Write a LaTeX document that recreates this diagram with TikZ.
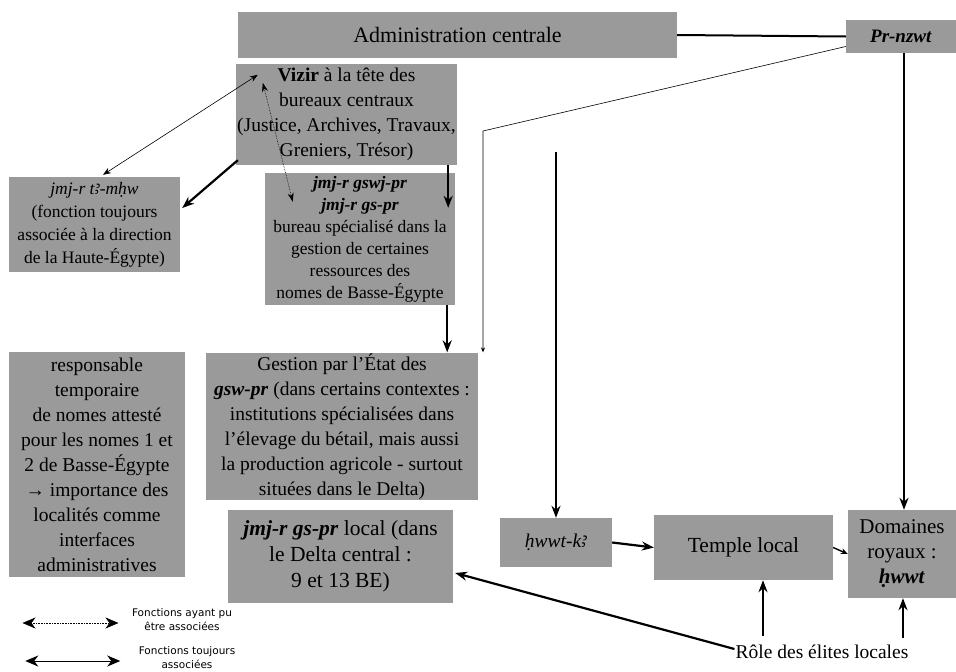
\documentclass[tikz,border=0pt]{standalone}
\usepackage{fontspec}
\setmainfont{Liberation Serif}
\newfontfamily\legendfont{DejaVu Sans}
\newfontfamily\egyfont{Noto Sans}
\newcommand{\alef}{{\egyfont ꜣ}}
\usetikzlibrary{arrows.meta}
\definecolor{boxgray}{HTML}{9A9A9A}

\begin{document}
\begin{tikzpicture}[x=1pt,y=-1pt,
  box/.style={fill=boxgray,inner sep=1pt,align=center,
    font=\fontsize{19.5}{25}\selectfont},
  small/.style={font=\fontsize{17.5}{23}\selectfont},
  heavy/.style={line width=2.2pt,-{Stealth[length=12pt,width=9pt]}},
  light/.style={line width=0.6pt},
  legend/.style={align=center,font=\legendfont\fontsize{10.5}{14}\selectfont},
  bigtips/.style={{Stealth[length=13pt,width=11pt,inset=4pt]}-{Stealth[length=13pt,width=11pt,inset=4pt]}}]
\useasboundingbox (0,0) rectangle (956,672);
\fill[white] (0,0) rectangle (956,672);

% top row
\node[box,font=\fontsize{22}{25}\selectfont,minimum width=439,minimum height=46] (admin) at (457.5,35) {Administration centrale};
\node[box,font=\fontsize{19}{22}\selectfont,minimum width=110,minimum height=33] (prnzwt) at (901,36.5) {\textbf{\textit{Pr-nzwt}}};
\node[box,minimum width=221,minimum height=101] (vizir) at (346.5,114.5)
  {\textbf{Vizir} à la tête des\\bureaux centraux\\(Justice, Archives, Travaux,\\Greniers, Trésor)};

% left column
\node[box,small,minimum width=171,minimum height=95] (mhw) at (94.5,224.5)
  {\textit{jmj-r t\alef-mḥw}\\(fonction toujours\\associée à la direction\\de la Haute-Égypte)};
\node[box,font=\fontsize{17.5}{22}\selectfont,minimum width=190,minimum height=132] (gswj) at (360,239)
  {\textbf{\textit{jmj-r gswj-pr}}\\\textbf{\textit{jmj-r gs-pr}}\\bureau spécialisé dans la\\gestion de certaines\\ressources des\\nomes de Basse-Égypte};
\node[box,minimum width=272,minimum height=147] (gestion) at (342,426.5)
  {Gestion par l'État des\\\textbf{\textit{gsw-pr}} (dans certains contextes :\\institutions spécialisées dans\\l'élevage du bétail, mais aussi\\la production agricole - surtout\\situées dans le Delta)};
\node[box,minimum width=176,minimum height=225] (resp) at (97,464.5)
  {responsable\\temporaire\\de nomes attesté\\pour les nomes 1 et\\2 de Basse-Égypte\\→ importance des\\localités comme\\interfaces\\administratives};
\node[box,font=\fontsize{21.5}{26}\selectfont,minimum width=225,minimum height=93] (local) at (340.5,556.5)
  {\textbf{\textit{jmj-r gs-pr}} local (dans\\le Delta central :\\9 et 13 BE)};

% bottom row
\node[box,minimum width=112,minimum height=49] (hwwtka) at (556,542.5) {\textit{ḥwwt-k\alef}};
\node[box,font=\fontsize{21.5}{25}\selectfont,minimum width=179,minimum height=65] (temple) at (743.5,547.5) {Temple local};
\node[box,font=\fontsize{21}{25}\selectfont,minimum width=108,minimum height=88] (domaines) at (902,554)
  {Domaines\\royaux :\\\textbf{\textit{ḥwwt}}};
\node[font=\fontsize{19.5}{25}\selectfont,inner sep=1pt] (role) at (822,652) {Rôle des élites locales};

% connectors
\draw[line width=2pt] (admin.east) -- (prnzwt.west);
\draw[light,{Stealth[length=8pt,width=6pt]}-{Stealth[length=8pt,width=6pt]}]
  ([xshift=22pt,yshift=-11pt]vizir.north west) -- ([xshift=8.5pt,yshift=2pt]mhw.north);
\draw[heavy] ([xshift=2pt,yshift=5pt]vizir.south west) -- ([xshift=2pt,yshift=16.5pt]mhw.east);
\draw[light,densely dotted,{Stealth[length=9pt,width=6pt]}-{Stealth[length=9pt,width=6pt]}]
  ([xshift=27pt,yshift=-19pt]vizir.north west) -- ([xshift=28pt,yshift=-29pt]gswj.north west);
\draw[heavy] ([xshift=-9pt]vizir.south east) -- ([xshift=-7pt,yshift=-35pt]gswj.north east);
\draw[heavy] ([xshift=-8pt]gswj.south east) coordinate (gs) -- (gs |- gestion.north);
\coordinate (bend) at (483,131);
\draw[light,-{Stealth[length=5pt,width=4pt]}] ([yshift=-10pt]prnzwt.west) -- (bend) -- (bend |- gestion.north);
\coordinate (kastart) at (556,152);
\draw[heavy] (kastart) -- (kastart |- hwwtka.north);
\draw[heavy] ([xshift=3pt]prnzwt.south) -- ([xshift=2pt]domaines.north);
\draw[heavy] (hwwtka.east) -- (temple.west);
\draw[line width=1.4pt,-{Stealth[length=7pt,width=6pt]}] (temple.east) -- (domaines.west);
\draw[heavy] ([xshift=19.5pt,yshift=-56pt]temple.south) -- ([xshift=19.5pt]temple.south);
\draw[heavy] ([xshift=1pt,yshift=-40pt]domaines.south) -- ([xshift=1pt]domaines.south);
\draw[heavy] ([yshift=3pt]role.west) -- ([xshift=2pt,yshift=-16.5pt]local.east);

% legend
\node[legend] (leg1) at (182,620) {Fonctions ayant pu\\être associées};
\node[legend] (leg2) at (187,658) {Fonctions toujours\\associées};
\draw[light,densely dotted,bigtips] ([xshift=-106pt,yshift=-3pt]leg1.west) -- ([xshift=-10pt,yshift=-3pt]leg1.west);
\draw[line width=1pt,bigtips] ([xshift=-110pt,yshift=-3pt]leg2.west) -- ([xshift=-15pt,yshift=-3pt]leg2.west);
\end{tikzpicture}
\end{document}
